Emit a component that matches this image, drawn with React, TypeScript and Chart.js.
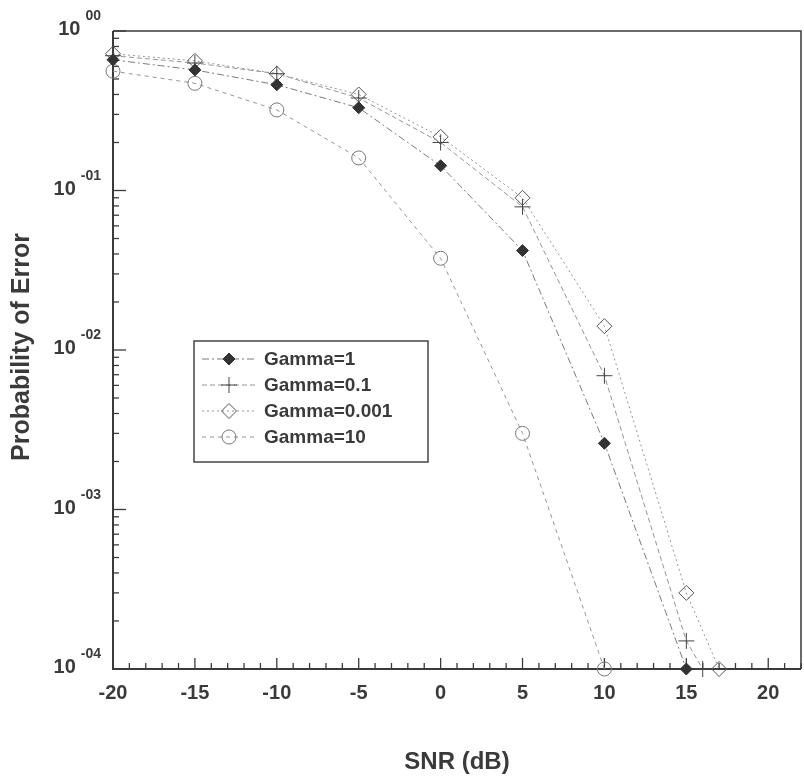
import React, { useEffect, useRef } from "react";
import { Chart, registerables } from "chart.js";

Chart.register(...registerables);

const FONT = "'Liberation Sans', Arial, Helvetica, sans-serif";
const INK = "#3a3a3a";

// SNR (dB) values per series
const snrG1 = [-20, -15, -10, -5, 0, 5, 10, 15];
const snrG01 = [-20, -15, -10, -5, 0, 5, 10, 15, 16];
const snrG0001 = [-20, -15, -10, -5, 0, 5, 10, 15, 17];
const snrG10 = [-20, -15, -10, -5, 0, 5, 10];

// Probability of error per series
const peG1 = [0.66, 0.57, 0.46, 0.33, 0.143, 0.042, 0.0026, 0.0001];
const peG01 = [0.7, 0.63, 0.54, 0.38, 0.2, 0.079, 0.0069, 0.00015, 0.0001];
const peG0001 = [0.72, 0.65, 0.54, 0.4, 0.217, 0.09, 0.0141, 0.0003, 0.0001];
const peG10 = [0.56, 0.47, 0.32, 0.16, 0.0376, 0.003, 0.0001];

const seriesLabels = ["Gamma=1", "Gamma=0.1", "Gamma=0.001", "Gamma=10"];

const xTickValues = [-20, -15, -10, -5, 0, 5, 10, 15, 20];
const yDecades = [1, 0.1, 0.01, 0.001, 0.0001];
const yExponents = ["00", "-01", "-02", "-03", "-04"];

const xTitle = "SNR (dB)";
const yTitle = "Probability of Error";

const pts = (xs: number[], ys: number[]) => xs.map((x, i) => ({ x, y: ys[i] }));

type Style = {
  shape: "diamond" | "cross" | "circle";
  r: number;
  fill: string | null;
  stroke: string;
  line: string;
  dash: number[];
};

const styles: Style[] = [
  { shape: "diamond", r: 6, fill: "#333333", stroke: "#333333", line: "#7a7a7a", dash: [7, 3, 2, 3] },
  { shape: "cross", r: 8, fill: null, stroke: "#444444", line: "#959595", dash: [5, 3] },
  { shape: "diamond", r: 7.5, fill: null, stroke: "#555555", line: "#959595", dash: [2, 3] },
  { shape: "circle", r: 7, fill: null, stroke: "#777777", line: "#959595", dash: [4, 4] },
];

function drawMarker(ctx: CanvasRenderingContext2D, s: Style, x: number, y: number) {
  ctx.save();
  ctx.setLineDash([]);
  ctx.lineWidth = 1;
  ctx.strokeStyle = s.stroke;
  ctx.beginPath();
  if (s.shape === "diamond") {
    ctx.moveTo(x, y - s.r);
    ctx.lineTo(x + s.r, y);
    ctx.lineTo(x, y + s.r);
    ctx.lineTo(x - s.r, y);
    ctx.closePath();
  } else if (s.shape === "cross") {
    ctx.moveTo(x - s.r, y);
    ctx.lineTo(x + s.r, y);
    ctx.moveTo(x, y - s.r);
    ctx.lineTo(x, y + s.r);
  } else {
    ctx.arc(x, y, s.r, 0, Math.PI * 2);
  }
  if (s.fill) {
    ctx.fillStyle = s.fill;
    ctx.fill();
  }
  ctx.stroke();
  ctx.restore();
}

const decorPlugin = {
  id: "decor",
  beforeDatasetsDraw(chart: any) {
    const { ctx, chartArea: a, scales } = chart;
    const xs = scales.x;
    const ys = scales.y;
    ctx.save();
    ctx.strokeStyle = INK;
    ctx.setLineDash([]);
    // x ticks (inward)
    ctx.lineWidth = 1.3;
    for (let v = -20; v <= 22; v++) {
      const px = xs.getPixelForValue(v);
      const len = v % 5 === 0 ? 11 : 6;
      ctx.beginPath();
      ctx.moveTo(px, a.bottom);
      ctx.lineTo(px, a.bottom - len);
      ctx.stroke();
    }
    // y ticks (inward)
    for (let d = -4; d <= 0; d++) {
      for (let k = 1; k <= 9; k++) {
        if (d === 0 && k > 1) break;
        const val = k * Math.pow(10, d);
        const py = ys.getPixelForValue(val);
        const len = k === 1 ? 13 : 6;
        ctx.beginPath();
        ctx.moveTo(a.left, py);
        ctx.lineTo(a.left + len, py);
        ctx.stroke();
      }
    }
    // frame
    ctx.lineWidth = 1.5;
    ctx.beginPath();
    ctx.moveTo(a.left, a.top);
    ctx.lineTo(a.right, a.top);
    ctx.lineTo(a.right, a.bottom);
    ctx.stroke();
    ctx.lineWidth = 2;
    ctx.beginPath();
    ctx.moveTo(a.left, a.top);
    ctx.lineTo(a.left, a.bottom);
    ctx.lineTo(a.right, a.bottom);
    ctx.stroke();

    // y labels 10^xx
    ctx.fillStyle = INK;
    ctx.textBaseline = "alphabetic";
    yDecades.forEach((v, i) => {
      const py = ys.getPixelForValue(v);
      ctx.font = `bold 14px ${FONT}`;
      ctx.textAlign = "right";
      const expRight = a.left - 12;
      ctx.fillText(yExponents[i], expRight, py - 11);
      const ew = ctx.measureText(yExponents[i]).width;
      ctx.font = `bold 20px ${FONT}`;
      ctx.fillText("10", expRight - ew - 5, py + 4);
    });

    // y title
    ctx.save();
    ctx.translate(22, 347);
    ctx.rotate(-Math.PI / 2);
    ctx.font = `bold 25px ${FONT}`;
    ctx.textAlign = "center";
    ctx.textBaseline = "middle";
    ctx.fillText(yTitle, 0, 0);
    ctx.restore();
    ctx.restore();
  },
  afterDraw(chart: any) {
    const { ctx } = chart;
    const bx = 194, by = 341, bw = 234, bh = 121;
    ctx.save();
    ctx.fillStyle = "#ffffff";
    ctx.fillRect(bx, by, bw, bh);
    ctx.strokeStyle = "#444444";
    ctx.lineWidth = 1.5;
    ctx.setLineDash([]);
    ctx.strokeRect(bx, by, bw, bh);
    const rowY = [359, 385, 411, 437];
    chart.data.datasets.forEach((ds: any, i: number) => {
      const s = styles[i];
      const y = rowY[i];
      ctx.save();
      ctx.strokeStyle = s.line;
      ctx.lineWidth = 1;
      ctx.setLineDash(s.dash);
      ctx.beginPath();
      ctx.moveTo(202, y);
      ctx.lineTo(256, y);
      ctx.stroke();
      ctx.restore();
      drawMarker(ctx, s, 229, y);
      ctx.fillStyle = INK;
      ctx.font = `bold 19px ${FONT}`;
      ctx.textAlign = "left";
      ctx.textBaseline = "middle";
      ctx.fillText(ds.label, 264, y + 1);
    });
    ctx.restore();
  },
};

export default function App() {
  const canvasRef = useRef<HTMLCanvasElement | null>(null);

  useEffect(() => {
    if (!canvasRef.current) return;
    const seriesData = [
      pts(snrG1, peG1),
      pts(snrG01, peG01),
      pts(snrG0001, peG0001),
      pts(snrG10, peG10),
    ];
    const chart = new Chart(canvasRef.current, {
      type: "line",
      data: {
        datasets: seriesData.map((d, i) => {
          const s = styles[i];
          return {
            label: seriesLabels[i],
            data: d,
            borderColor: s.line,
            borderWidth: 1,
            borderDash: s.dash,
            backgroundColor: s.fill ?? "rgba(0,0,0,0)",
            pointStyle: s.shape === "diamond" ? "rectRot" : s.shape === "cross" ? "cross" : "circle",
            pointRadius: s.r,
            pointBorderColor: s.stroke,
            pointBackgroundColor: s.fill ?? "rgba(0,0,0,0)",
            pointBorderWidth: 1,
            fill: false,
            tension: 0,
            clip: false as any,
          };
        }),
      },
      options: {
        animation: false,
        responsive: false,
        devicePixelRatio: 1,
        layout: { autoPadding: false, padding: { top: 31, right: 3, left: 0, bottom: 0 } },
        plugins: { legend: { display: false }, tooltip: { enabled: false } },
        scales: {
          x: {
            type: "linear",
            min: -20,
            max: 22,
            afterBuildTicks: (s: any) => {
              s.ticks = xTickValues.map((v) => ({ value: v }));
            },
            afterFit: (s: any) => {
              s.height = 111;
              s.paddingLeft = 0;
              s.paddingRight = 0;
            },
            grid: { display: false, drawTicks: false },
            border: { display: false },
            ticks: {
              font: { family: FONT, size: 20, weight: "bold" },
              color: INK,
              padding: 12,
              maxRotation: 0,
              autoSkip: false,
            },
            title: {
              display: true,
              text: xTitle,
              font: { family: FONT, size: 24, weight: "bold" },
              color: INK,
              padding: { top: 0, bottom: 3 },
            },
          },
          y: {
            type: "logarithmic",
            min: 0.0001,
            max: 1,
            afterFit: (s: any) => {
              s.width = 113;
              s.paddingTop = 0;
              s.paddingBottom = 0;
            },
            grid: { display: false, drawTicks: false },
            border: { display: false },
            ticks: { display: false },
          },
        },
      },
      plugins: [decorPlugin],
    } as any);
    return () => chart.destroy();
  }, []);

  return (
    <div style={{ position: "fixed", left: 0, top: 0, width: 804, height: 780, background: "#fff" }}>
      <canvas ref={canvasRef} width={804} height={780} style={{ display: "block" }} />
    </div>
  );
}
